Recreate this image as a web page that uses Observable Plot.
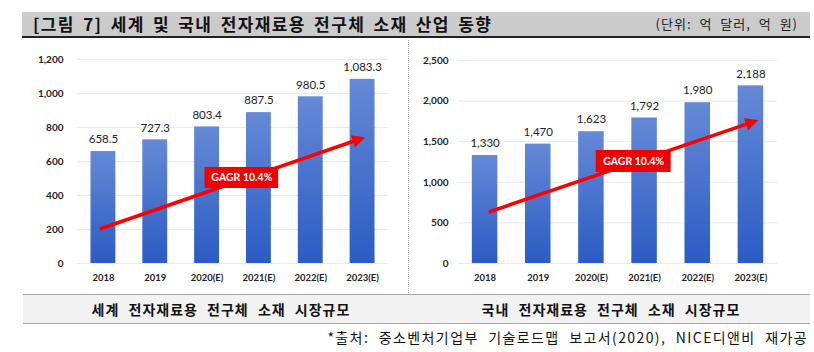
<!DOCTYPE html>
<html><head><meta charset="utf-8">
<script src="https://cdn.jsdelivr.net/npm/d3@7"></script>
<script src="https://cdn.jsdelivr.net/npm/@observablehq/plot@0.6"></script>
<style>
body{margin:0;background:#fff;width:814px;height:352px;position:relative;overflow:hidden;font-family:"Noto Sans CJK KR",sans-serif;}
#header{position:absolute;left:22px;top:12px;width:788px;height:24px;background:#cbcbcb;border-bottom:2px solid #222;}
#title{position:absolute;left:11px;top:0;line-height:24px;font-size:17px;font-weight:700;color:#111;white-space:nowrap;letter-spacing:1.4px;word-spacing:3px;}
#unit{position:absolute;right:12px;top:0;line-height:24px;font-size:13px;color:#222;white-space:nowrap;letter-spacing:1px;word-spacing:4px;}
#left{position:absolute;left:0;top:40px;}
#right{position:absolute;left:405px;top:40px;}
#sep{position:absolute;left:408px;top:40px;height:255px;border-left:1px dotted #b0b0b0;}
#band{position:absolute;left:23px;top:294px;width:787px;height:28px;background:#f2f2f2;border-top:1px solid #a6a6a6;border-bottom:1px solid #a6a6a6;}
.cap{position:absolute;top:0;width:396px;text-align:center;line-height:28px;font-size:14px;font-weight:700;color:#111;white-space:nowrap;letter-spacing:1px;word-spacing:5px;}
#source{position:absolute;right:6px;top:327px;font-size:14px;color:#111;white-space:nowrap;letter-spacing:1.4px;word-spacing:5px;}
</style>
</head><body>
<div id="header"><div id="title">[그림 7] 세계 및 국내 전자재료용 전구체 소재 산업 동향</div><div id="unit">(단위: 억 달러, 억 원)</div></div>
<div id="left"></div>
<div id="sep"></div>
<div id="right"></div>
<div id="band"><div class="cap" style="left:0">세계 전자재료용 전구체 소재 시장규모</div><div class="cap" style="left:390px">국내 전자재료용 전구체 소재 시장규모</div></div>
<div id="source">*출처: 중소벤처기업부 기술로드맵 보고서(2020), NICE디앤비 재가공</div>
<script>
const years = ["2018", "2019", "2020(E)", "2021(E)", "2022(E)", "2023(E)"];
const worldValues = [658.5, 727.3, 803.4, 887.5, 980.5, 1083.3];
const domesticValues = [1330, 1470, 1623, 1792, 1980, 2188];
const worldTicks = [0, 200, 400, 600, 800, 1000, 1200];
const domesticTicks = [0, 500, 1000, 1500, 2000, 2500];
const cagrLabel = "GAGR 10.4%";
const worldArrow = [{x1: -0.06, y1: 200, x2: 5.06, y2: 740}];
const worldBox = [{x1: 1.96, x2: 3.38, y1: 441, y2: 565}];
const domesticArrow = [{x1: 0.08, y1: 628, x2: 5.15, y2: 1760}];
const domesticBox = [{x1: 2.09, x2: 3.5, y1: 1121, y2: 1392}];

function arrowMark(arr) {
  return (index, scales) => {
    const {x, y} = scales;
    const g = d3.create("svg:g");
    for (const a of arr) {
      const X1 = x(a.x1), Y1 = y(a.y1), X2 = x(a.x2), Y2 = y(a.y2);
      const ang = Math.atan2(Y2 - Y1, X2 - X1);
      const L = 13, W = 6.5;
      const bx = X2 - L * Math.cos(ang), by = Y2 - L * Math.sin(ang);
      g.append("line").attr("x1", X1).attr("y1", Y1).attr("x2", bx + 2 * Math.cos(ang)).attr("y2", by + 2 * Math.sin(ang))
        .attr("stroke", "#ff0000").attr("stroke-width", 3.6);
      g.append("path")
        .attr("d", `M${X2},${Y2}L${bx + W * Math.sin(ang)},${by - W * Math.cos(ang)}L${bx - W * Math.sin(ang)},${by + W * Math.cos(ang)}Z`)
        .attr("fill", "#ff0000");
    }
    return g.node();
  };
}

function chart({values, ticks, fmt, gradId, width, marginLeft, marginRight, marginTop, tickPad, arrow, box}) {
  const data = years.map((year, i) => ({i, year, value: values[i]}));
  const defs = () => {
    const d = d3.create("svg:defs");
    const g = d.append("linearGradient").attr("id", gradId).attr("x1", 0).attr("y1", 0).attr("x2", 0).attr("y2", 1);
    g.append("stop").attr("offset", "0%").attr("stop-color", "#6489d6");
    g.append("stop").attr("offset", "100%").attr("stop-color", "#2b5cc4");
    return d.node();
  };
  return Plot.plot({
    width, height: 255, marginLeft, marginRight, marginTop, marginBottom: 32,
    style: {fontFamily: "Lato, sans-serif", background: "transparent"},
    x: {domain: [-0.5, 5.5]},
    y: {domain: [0, ticks[ticks.length - 1]]},
    marks: [
      defs,
      Plot.ruleY(ticks, {stroke: "#e9e9e9"}),
      Plot.axisY({ticks, tickFormat: d3.format(","), tickSize: 0, tickPadding: tickPad, fontWeight: "bold", fontSize: 10, fill: "#222", label: null}),
      Plot.axisX({ticks: d3.range(years.length), tickFormat: i => years[i], tickSize: 0, tickPadding: 11, fontWeight: "bold", fontSize: 9.5, fill: "#222", label: null}),
      Plot.rect(data, {x1: d => d.i - 0.24, x2: d => d.i + 0.24, y1: 0, y2: "value", fill: `url(#${gradId})`}),
      Plot.text(data, {x: "i", y: "value", text: d => fmt(d.value), dy: -12, fontSize: 11.5, fill: "#222"}),
      arrowMark(arrow),
      Plot.rect(box, {x1: "x1", x2: "x2", y1: "y1", y2: "y2", fill: "#f20000"}),
      Plot.text(box, {x: d => (d.x1 + d.x2) / 2, y: d => (d.y1 + d.y2) / 2, text: () => cagrLabel, fill: "white", fontWeight: "bold", fontSize: 10.5})
    ]
  });
}

document.getElementById("left").append(chart({
  values: worldValues, ticks: worldTicks, fmt: d3.format(",.1f"), gradId: "gw",
  width: 405, marginLeft: 77, marginRight: 17, marginTop: 19, tickPad: 14,
  arrow: worldArrow, box: worldBox
}));
document.getElementById("right").append(chart({
  values: domesticValues, ticks: domesticTicks, fmt: d3.format(","), gradId: "gd",
  width: 409, marginLeft: 53, marginRight: 37, marginTop: 20, tickPad: 10,
  arrow: domesticArrow, box: domesticBox
}));
</script>
</body></html>
